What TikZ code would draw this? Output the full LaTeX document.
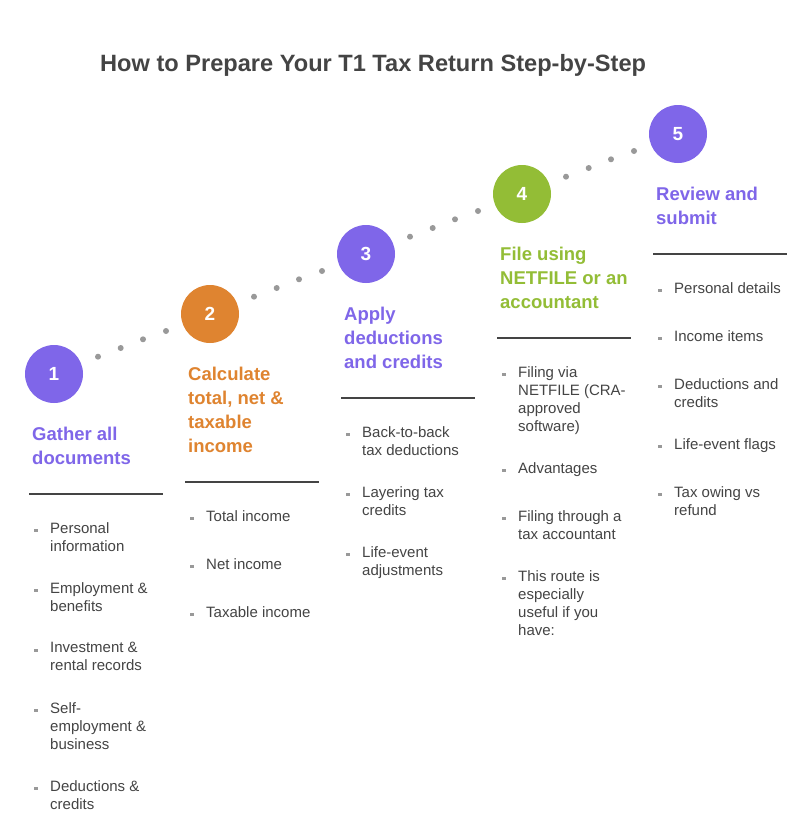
\documentclass[tikz,border=0pt]{standalone}
\usepackage{fontspec}
\setmainfont{Liberation Sans}
\definecolor{purp}{HTML}{7F66E9}
\definecolor{orng}{HTML}{DF8430}
\definecolor{lime}{HTML}{93BD36}
\definecolor{ink}{HTML}{444444}
\definecolor{dotc}{HTML}{999999}
\tikzset{
  x=1pt,y=-1pt,
  badge/.style={circle,minimum size=58pt,inner sep=0pt,fill=#1,text=white,font=\fontsize{19}{19}\selectfont\bfseries},
  head/.style={anchor=north west,inner sep=0pt,align=left,text=#1,font=\fontsize{18.5}{24}\selectfont\bfseries},
  item/.style={anchor=north west,inner sep=0pt,align=left,text=ink,font=\fontsize{15}{18}\selectfont},
  rule/.style={draw=ink,line width=1.4pt},
  tick/.style={rectangle,fill=dotc,inner sep=0pt,minimum size=3.5pt},
  trail/.style={circle,fill=dotc,inner sep=0pt,minimum size=6pt},
}
\begin{document}
\begin{tikzpicture}
\useasboundingbox (0,0) rectangle (810,816);
\fill[white] (0,0) rectangle (810,816);
\node[anchor=west,inner sep=0pt,text=ink,font=\fontsize{23.6}{28}\selectfont\bfseries] (title) at (100,65) {How to Prepare Your T1 Tax Return Step-by-Step};
\node[badge=purp] (b1) at (54,374) {1};
\node[badge=orng] (b2) at (210,314) {2};
\node[badge=purp] (b3) at (366,254) {3};
\node[badge=lime] (b4) at (522,194) {4};
\node[badge=purp] (b5) at (678,134) {5};
\foreach \x/\y in {98/356.7,120.7/348,143/339.3,166/331,254/296.7,276.7/288,299/279.3,322/271,410/236.7,432.7/228,455/219.3,478/211,566/176.7,588.7/168,611/159.3,634/151}{\node[trail] at (\x,\y) {};}
\node[head=purp] (h1) at (32,427) {Gather all\\documents};
\node[head=orng] (h2) at (188,367) {Calculate\\total, net \&\\taxable\\income};
\node[head=purp] (h3) at (344,307) {Apply\\deductions\\and credits};
\node[head=lime] (h4) at (500,247) {File using\\NETFILE or an\\accountant};
\node[head=purp] (h5) at (656,187) {Review and\\submit};
\draw[rule] (29,494) -- (163,494);
\draw[rule] (185,482) -- (319,482);
\draw[rule] (341,398) -- (475,398);
\draw[rule] (497,338) -- (631,338);
\draw[rule] (653,254) -- (787,254);
\foreach \tx/\ty/\txt in {
 50/522/{Personal\\information},50/582/{Employment \&\\benefits},50/642/{Investment \&\\rental records},50/702/{Self-\\employment \&\\business},50/780/{Deductions \&\\credits},
 206/510/{Total income},206/558/{Net income},206/606/{Taxable income},
 362/426/{Back-to-back\\tax deductions},362/486/{Layering tax\\credits},362/546/{Life-event\\adjustments},
 518/366/{Filing via\\NETFILE (CRA-\\approved\\software)},518/462/{Advantages},518/510/{Filing through a\\tax accountant},518/570/{This route is\\especially\\useful if you\\have:},
 674/282/{Personal details},674/330/{Income items},674/378/{Deductions and\\credits},674/438/{Life-event flags},674/486/{Tax owing vs\\refund}}{
 \node[item] at (\tx,\ty) {\txt};
 \node[tick] at (\tx-14,\ty+8.5) {};
}
\end{tikzpicture}
\end{document}
